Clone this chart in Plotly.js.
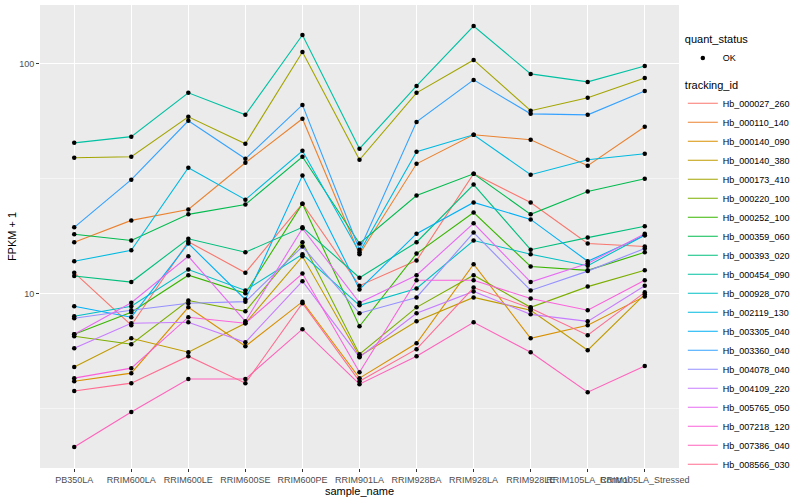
<!DOCTYPE html>
<html>
<head>
<meta charset="utf-8">
<script src="https://cdn.plot.ly/plotly-3.0.1.min.js"></script>
<style>html,body{margin:0;padding:0;background:#fff;}#chart{width:800px;height:500px;}</style>
</head>
<body>
<div id="chart"></div>
<script>
const categories = ["PB350LA","RRIM600LA","RRIM600LE","RRIM600SE","RRIM600PE","RRIM901LA","RRIM928BA","RRIM928LA","RRIM928LE","RRIM105LA_Control","RRIM105LA_Stressed"];
const trackingIds = ["Hb_000027_260","Hb_000110_140","Hb_000140_090","Hb_000140_380","Hb_000173_410","Hb_000220_100","Hb_000252_100","Hb_000359_060","Hb_000393_020","Hb_000454_090","Hb_000928_070","Hb_002119_130","Hb_003305_040","Hb_003360_040","Hb_004078_040","Hb_004109_220","Hb_005765_050","Hb_007218_120","Hb_007386_040","Hb_008566_030"];
const colors = ["#F8766D","#EA8331","#D89000","#C09B00","#A3A500","#7CAE00","#39B600","#00BB4E","#00BF7D","#00C1A3","#00BFC4","#00BAE0","#00B0F6","#35A2FF","#9590FF","#C77CFF","#E76BF3","#FA62DB","#FF62BC","#FF6C91"];

const hb_000027_260 = [12.3, 7.26, 16.8, 12.3, 24.6, 10.8, 13.9, 33.2, 24.9, 16.5, 16.0];
const hb_000110_140 = [16.7, 20.8, 23.2, 37.1, 57.7, 14.8, 36.7, 49.1, 46.7, 36.0, 53.2];
const hb_000140_090 = [4.14, 4.49, 8.69, 5.88, 9.2, 4.27, 6.06, 13.4, 6.37, 7.26, 9.7];
const hb_000140_380 = [4.77, 6.37, 5.54, 7.41, 14.5, 5.32, 7.55, 9.6, 8.44, 5.65, 9.9];
const hb_000173_410 = [39.0, 39.4, 58.8, 44.9, 112.8, 38.2, 74.8, 104.1, 62.5, 71.2, 86.9];
const hb_000220_100 = [6.50, 6.00, 9.3, 8.35, 16.7, 5.43, 8.69, 12.0, 8.69, 10.7, 12.6];
const hb_000252_100 = [6.63, 8.27, 12.0, 10.0, 24.6, 7.19, 14.9, 22.5, 13.1, 12.6, 15.1];
const hb_000359_060 = [18.1, 17.0, 22.1, 24.4, 39.4, 16.5, 26.7, 33.2, 22.1, 27.8, 31.6];
const hb_000393_020 = [11.9, 11.2, 17.3, 15.1, 19.4, 11.7, 16.7, 29.8, 15.5, 17.5, 19.6];
const hb_000454_090 = [45.3, 48.2, 74.8, 60.0, 133.7, 42.7, 80.2, 146.3, 90.5, 83.5, 98.0];
const hb_000928_070 = [7.94, 8.78, 12.7, 10.3, 14.8, 8.87, 10.5, 17.0, 14.8, 13.2, 17.9];
const hb_002119_130 = [13.8, 15.4, 35.3, 25.6, 41.8, 15.1, 41.4, 49.1, 32.9, 38.2, 40.6];
const hb_003305_040 = [8.78, 7.87, 16.5, 9.4, 32.6, 10.4, 18.2, 24.9, 21.0, 13.8, 17.9];
const hb_003360_040 = [19.4, 31.3, 56.5, 38.6, 66.3, 15.5, 55.9, 85.2, 60.6, 60.0, 76.3];
const hb_004078_040 = [7.79, 8.44, 9.05, 9.2, 16.0, 8.19, 9.6, 18.4, 10.3, 12.5, 15.7];
const hb_004109_220 = [5.77, 7.41, 7.48, 6.12, 11.3, 5.27, 8.19, 10.2, 8.10, 7.55, 10.8];
const hb_005765_050 = [6.63, 9.1, 14.5, 7.55, 19.2, 9.1, 12.0, 20.2, 11.2, 13.5, 18.2];
const hb_007218_120 = [4.27, 4.72, 7.87, 7.41, 12.2, 4.53, 11.4, 11.4, 9.5, 8.44, 11.4];
const hb_007386_040 = [2.14, 3.04, 4.23, 4.23, 6.98, 4.02, 5.32, 7.48, 5.54, 3.71, 4.82];
const hb_008566_030 = [3.75, 4.06, 5.32, 4.06, 9.05, 4.14, 5.71, 10.6, 8.61, 6.57, 10.1];

const seriesValues = [hb_000027_260, hb_000110_140, hb_000140_090, hb_000140_380, hb_000173_410, hb_000220_100, hb_000252_100, hb_000359_060, hb_000393_020, hb_000454_090, hb_000928_070, hb_002119_130, hb_003305_040, hb_003360_040, hb_004078_040, hb_004109_220, hb_005765_050, hb_007218_120, hb_007386_040, hb_008566_030];

const yTickVals = [10, 100];
const yMinorVals = [3.1623, 31.623];

const FONT = "Liberation Sans, Arial, Helvetica, sans-serif";
const traces = [];
seriesValues.forEach((vals, i) => {
  traces.push({
    type: "scatter", mode: "lines", x: categories, y: vals,
    name: trackingIds[i], legend: "legend2",
    line: {color: colors[i], width: 1.1},
    hoverinfo: "skip"
  });
});
const px = [], py = [];
seriesValues.forEach(vals => { vals.forEach((v, j) => { px.push(categories[j]); py.push(v); }); });
traces.push({
  type: "scatter", mode: "markers", x: px, y: py, name: "OK", legend: "legend",
  marker: {color: "#000000", size: 4.5}, hoverinfo: "skip"
});

const layout = {
  width: 800, height: 500,
  margin: {l: 40, r: 114, t: 5, b: 32},
  paper_bgcolor: "#FFFFFF", plot_bgcolor: "#EBEBEB",
  font: {family: FONT, size: 9, color: "#000000"},
  showlegend: true,
  xaxis: {
    type: "category", categoryarray: categories, range: [-0.6, 10.6],
    showgrid: true, gridcolor: "#FFFFFF", gridwidth: 1.1, zeroline: false, showline: false,
    ticks: "outside", ticklen: 3, tickcolor: "#333333", tickwidth: 1, tickangle: 0,
    tickfont: {family: FONT, size: 9, color: "#4D4D4D"},
    title: {text: "sample_name", font: {family: FONT, size: 11, color: "#000000"}, standoff: 2}
  },
  yaxis: {
    type: "log", range: [0.2387, 2.2569],
    tickmode: "array", tickvals: yTickVals, ticktext: ["10", "100"],
    showgrid: true, gridcolor: "#FFFFFF", gridwidth: 1.1, zeroline: false, showline: false,
    ticks: "outside", ticklen: 3, tickcolor: "#333333", tickwidth: 1,
    tickfont: {family: FONT, size: 9, color: "#4D4D4D"},
    minor: {tickmode: "array", tickvals: yMinorVals, showgrid: true, gridcolor: "#FFFFFF", gridwidth: 0.5, ticks: ""},
    title: {text: "FPKM + 1", font: {family: FONT, size: 11, color: "#000000"}, standoff: 0}
  },
  legend: {
    x: 1.006, xanchor: "left", y: 0.948, yanchor: "top",
    bgcolor: "rgba(0,0,0,0)", itemwidth: 30,
    title: {text: "quant_status", font: {family: FONT, size: 11}},
    font: {family: FONT, size: 9}
  },
  legend2: {
    x: 1.006, xanchor: "left", y: 0.85, yanchor: "top",
    bgcolor: "rgba(0,0,0,0)", itemwidth: 30,
    title: {text: "tracking_id", font: {family: FONT, size: 11}},
    font: {family: FONT, size: 9}
  }
};
Plotly.newPlot("chart", traces, layout, {displayModeBar: false, staticPlot: true});
</script>
</body>
</html>
